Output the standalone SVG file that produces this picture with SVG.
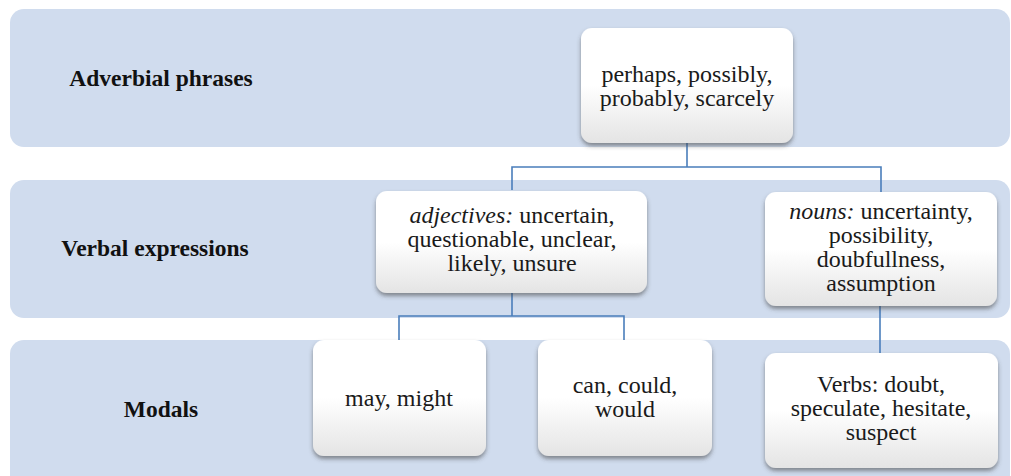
<svg xmlns="http://www.w3.org/2000/svg" width="1011" height="476" viewBox="0 0 1011 476">
<defs>
<linearGradient id="g" x1="0" y1="0" x2="0" y2="1">
<stop offset="0" stop-color="#FFFFFF"/>
<stop offset="0.5" stop-color="#FFFFFF"/>
<stop offset="1" stop-color="#E4E4E4"/>
</linearGradient>
<filter id="sh" x="-10%" y="-10%" width="120%" height="130%">
<feDropShadow dx="0" dy="3" stdDeviation="2" flood-color="#404040" flood-opacity="0.55"/>
</filter>
</defs>
<g id="bands" fill="#D0DCEE">
<rect x="10" y="9" width="1000" height="138" rx="14"/>
<rect x="10" y="180" width="1000" height="138" rx="14"/>
<rect x="10" y="340" width="1000" height="150" rx="14"/>
</g>
<g id="labels" font-family="Liberation Serif" font-size="23.5" font-weight="bold" fill="#111" text-anchor="middle">
<text x="161" y="86">Adverbial phrases</text>
<text x="155" y="256">Verbal expressions</text>
<text x="161" y="417">Modals</text>
</g>
<g id="connectors" fill="none" stroke="#4A7EBB" stroke-width="1.6">
<path d="M687 143 V167 M512 190 V167 H881 V192"/>
<path d="M512 293 V316 M399 340 V316 H624 V340"/>
<path d="M880 306 V353"/>
</g>
<g id="nodes" font-family="Liberation Serif" font-size="24" fill="#1a1a1a" text-anchor="middle">
<g id="n-adverbs">
<rect x="581" y="28" width="212" height="115" rx="11" fill="url(#g)" filter="url(#sh)"/>
<text x="687" y="82">perhaps, possibly,</text>
<text x="687" y="106">probably, scarcely</text>
</g>
<g id="n-adjectives">
<rect x="376" y="191" width="271" height="102" rx="11" fill="url(#g)" filter="url(#sh)"/>
<text x="512" y="223"><tspan font-style="italic">adjectives:</tspan> uncertain,</text>
<text x="512" y="247">questionable, unclear,</text>
<text x="512" y="271">likely, unsure</text>
</g>
<g id="n-nouns">
<rect x="765" y="192" width="232" height="114" rx="11" fill="url(#g)" filter="url(#sh)"/>
<text x="881" y="219"><tspan font-style="italic">nouns:</tspan> uncertainty,</text>
<text x="881" y="243">possibility,</text>
<text x="881" y="267">doubfullness,</text>
<text x="881" y="291">assumption</text>
</g>
<g id="n-may">
<rect x="313" y="340" width="173" height="116" rx="11" fill="url(#g)" filter="url(#sh)"/>
<text x="399" y="406">may, might</text>
</g>
<g id="n-can">
<rect x="538" y="340" width="174" height="116" rx="11" fill="url(#g)" filter="url(#sh)"/>
<text x="625" y="393">can, could,</text>
<text x="625" y="417">would</text>
</g>
<g id="n-verbs">
<rect x="765" y="353" width="233" height="115" rx="11" fill="url(#g)" filter="url(#sh)"/>
<text x="881" y="392">Verbs: doubt,</text>
<text x="881" y="416">speculate, hesitate,</text>
<text x="881" y="440">suspect</text>
</g>
</g>
</svg>
